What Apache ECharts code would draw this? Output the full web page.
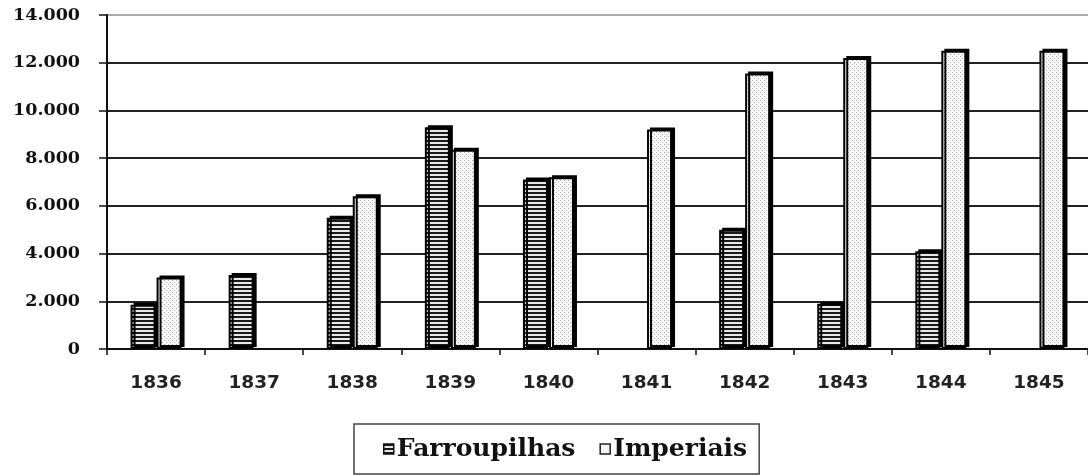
<!DOCTYPE html>
<html><head><meta charset="utf-8">
<script src="https://cdn.jsdelivr.net/npm/echarts@6/dist/echarts.min.js"></script>
<style>html,body{margin:0;padding:0;background:#fff}#c{width:1088px;height:476px}</style>
</head><body><div id="c"></div>
<script>
const years = ['1836','1837','1838','1839','1840','1841','1842','1843','1844','1845'];
const farroupilhas = [1850, 3100, 5500, 9300, 7100, 0, 5000, 1900, 4100, 0];
const imperiais = [3000, 0, 6400, 8350, 7200, 9200, 11550, 12200, 12500, 12500];
const yTicks = [0, 2000, 4000, 6000, 8000, 10000, 12000, 14000];

function stripePattern(){
  const c = document.createElement('canvas'); c.width = 4; c.height = 4;
  const g = c.getContext('2d');
  g.fillStyle = '#e8e8e8'; g.fillRect(0,0,4,4);
  g.fillStyle = '#1a1a1a'; g.fillRect(0,0,4,2);
  return c;
}
function dotPattern(){
  const c = document.createElement('canvas'); c.width = 4; c.height = 4;
  const g = c.getContext('2d');
  g.fillStyle = '#f8f8f8'; g.fillRect(0,0,4,4);
  g.fillStyle = '#a8a8a8'; g.fillRect(0,0,1,1); g.fillRect(2,2,1,1);
  return c;
}
const stripe = {image: stripePattern(), repeat: 'repeat'};
const dots = {image: dotPattern(), repeat: 'repeat'};

const barStyle = (fill) => ({
  color: fill, borderColor: '#000', borderWidth: 2,
  shadowColor: '#000', shadowOffsetX: 3, shadowOffsetY: -2, shadowBlur: 0
});

const chart = echarts.init(document.getElementById('c'), null, {renderer: 'canvas'});
chart.setOption({
  animation: false,
  backgroundColor: '#fff',
  grid: {left: 107, top: 15, right: -5, bottom: 127},
  legend: {
    left: 354, top: 424,
    padding: [10, 12, 10, 29],
    borderColor: '#444', borderWidth: 1.5,
    itemWidth: 10, itemHeight: 10, itemGap: 24,
    textStyle: {fontFamily: 'DejaVu Serif', fontWeight: 'bold', fontSize: 25, lineHeight: 30, color: '#111', padding: [0,0,0,-2]},
    data: [
      {name: 'Farroupilhas', icon: 'rect', itemStyle: {color: stripe, borderColor: '#111', borderWidth: 1.5, shadowBlur: 0, shadowOffsetX: 0, shadowOffsetY: 0}},
      {name: 'Imperiais', icon: 'rect', itemStyle: {color: '#f4f4f4', borderColor: '#222', borderWidth: 1.5, shadowBlur: 0, shadowOffsetX: 0, shadowOffsetY: 0}}
    ]
  },
  xAxis: {
    type: 'category', data: years,
    axisLine: {lineStyle: {color: '#111', width: 2}},
    axisTick: {show: true, length: 6, lineStyle: {color: '#111', width: 1.5}},
    axisLabel: {margin: 25, fontFamily: 'DejaVu Sans', fontWeight: 'bold', fontSize: 18.5, color: '#222'}
  },
  yAxis: {
    type: 'value', min: yTicks[0], max: yTicks[yTicks.length-1], interval: 2000,
    axisLine: {show: true, lineStyle: {color: '#111', width: 2}},
    axisTick: {show: true, length: 8, lineStyle: {color: '#111', width: 1.5}},
    axisLabel: {margin: 27, fontFamily: 'DejaVu Serif', fontWeight: 'bold', fontSize: 17.5, color: '#111',
      formatter: v => v === 0 ? '0' : (v/1000) + '.000'},
    splitLine: {lineStyle: {color: ['#222','#222','#222','#222','#222','#222','#222','#aaa'], width: 2}}
  },
  series: [
    {name: 'Farroupilhas', type: 'bar', barWidth: 25, barGap: '4%',
     data: farroupilhas.map(v => v || null), itemStyle: barStyle(stripe)},
    {name: 'Imperiais', type: 'bar', barWidth: 25,
     data: imperiais.map(v => v || null), itemStyle: barStyle(dots)}
  ]
});
</script></body></html>
